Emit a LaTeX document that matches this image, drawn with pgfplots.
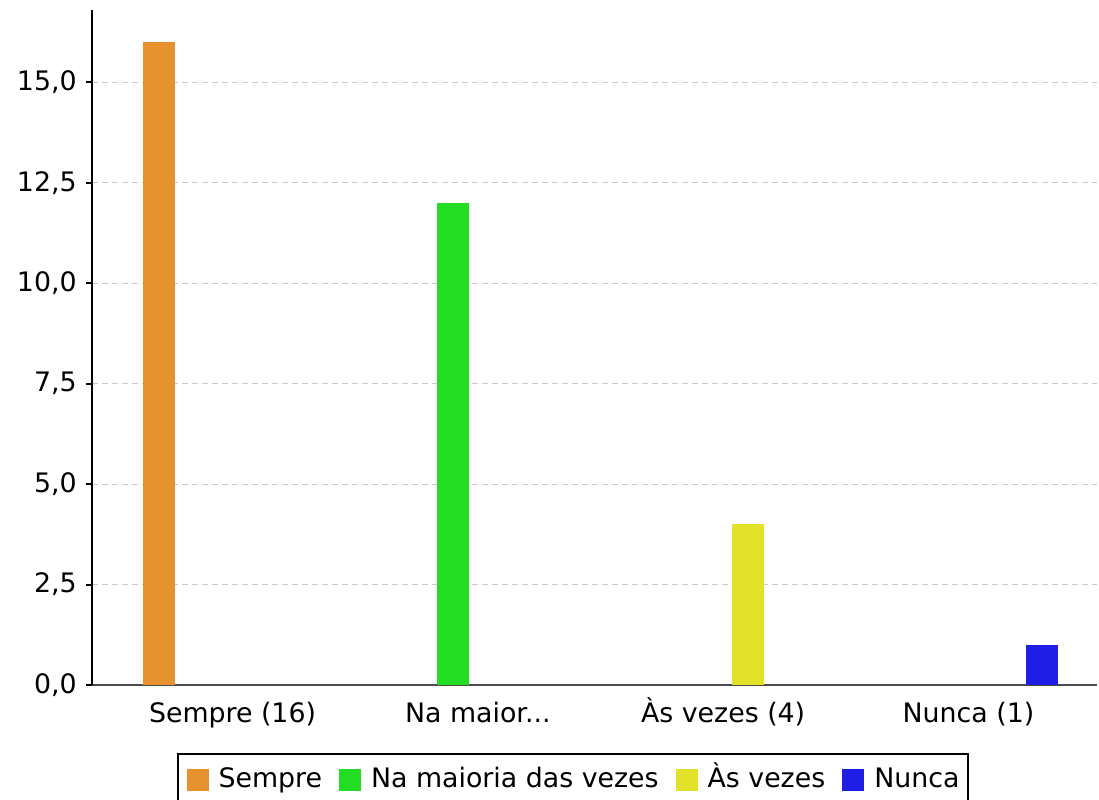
\documentclass[border=0pt]{standalone}
\usepackage{fontspec}
\setmainfont{DejaVu Sans}
\usepackage{pgfplots}
\pgfplotsset{compat=1.18}
\definecolor{c1}{HTML}{E69230}
\definecolor{c2}{HTML}{22DD22}
\definecolor{c3}{HTML}{E2E22A}
\definecolor{c4}{HTML}{1E1EE6}
\definecolor{gridc}{RGB}{200,200,200}
\begin{document}
\fontsize{13.4}{16}\selectfont
\begin{tikzpicture}
\useasboundingbox (-46pt,-57pt) rectangle (503.5pt,342.5pt);
\begin{axis}[
  scale only axis, width=502.5pt, height=337.5pt,
  xmin=-0.573, xmax=3.524, ymin=0, ymax=16.8,
  axis x line=bottom, axis y line=left,
  axis line style={-},
  x axis line style={draw=black!70, line width=0.7pt},
  y axis line style={draw=black, line width=1pt},
  xtick={0,1,2,3},
  xticklabels={{Sempre (16)}, {Na maior.{}.{}.}, {Às vezes (4)}, {Nunca (1)}},
  xtick style={draw=none},
  ytick={0,2.5,5,7.5,10,12.5,15},
  ytick style={draw=black, line width=1pt},
  tick align=outside, major tick length=3pt,
  ymajorgrids, grid style={draw=gridc, dash pattern=on 3pt off 2pt, line width=0.5pt},
  yticklabel style={/pgf/number format/.cd, fixed, fixed zerofill, precision=1, use comma, assume math mode=true},
  xticklabel style={anchor=base, yshift=-15.5pt, text height=10pt, text depth=3pt},
  tick label style={font=\fontsize{13.4}{16}\selectfont},
  legend style={at={(0.4786,-0.1007)}, anchor=north, legend columns=-1, draw=black, line width=1pt,
    font=\fontsize{13.4}{16}\selectfont, inner xsep=4.5pt, inner ysep=5pt,
    nodes={inner xsep=0pt, text height=10pt, text depth=3pt},
    /tikz/every odd column/.append style={column sep=5pt},
    /tikz/every even column/.append style={column sep=8.5pt}},
  legend image code/.code={\fill[#1] (0pt,-5pt) rectangle (11pt,6pt);},
]
\addplot[ybar, bar width=0.1305, bar shift=-0.3, fill=c1, draw=none] coordinates {(0,16)};
\addlegendentry{Sempre}
\addplot[ybar, bar width=0.1305, bar shift=-0.1, fill=c2, draw=none] coordinates {(1,12)};
\addlegendentry{Na maioria das vezes}
\addplot[ybar, bar width=0.1305, bar shift=0.1, fill=c3, draw=none] coordinates {(2,4)};
\addlegendentry{Às vezes}
\addplot[ybar, bar width=0.1305, bar shift=0.3, fill=c4, draw=none] coordinates {(3,1)};
\addlegendentry{Nunca}
\end{axis}
\end{tikzpicture}
\end{document}
